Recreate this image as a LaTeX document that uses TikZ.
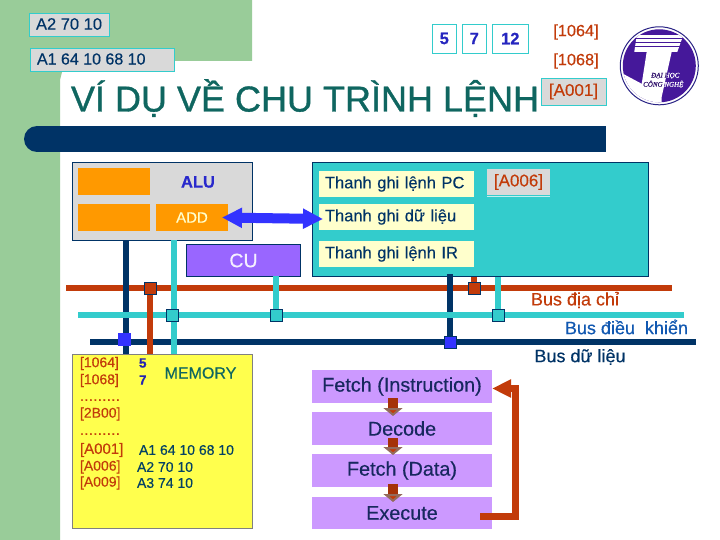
\documentclass[tikz,border=0pt]{standalone}
\usepackage{fontspec}
\setmainfont[RawFeature={embolden=0.35}]{Liberation Sans}
\newfontfamily\titlefont[RawFeature={embolden=1.0}]{Liberation Sans}
\newfontfamily\logofont[RawFeature={embolden=0.5}]{Liberation Serif}[ItalicFont=* Italic]
\usetikzlibrary{arrows.meta}
\definecolor{grn}{HTML}{99CC99}
\definecolor{navy}{HTML}{003366}
\definecolor{tl}{HTML}{33CCCC}
\definecolor{rd}{HTML}{C23B0A}
\definecolor{blu}{HTML}{3333FF}
\definecolor{org}{HTML}{FF9900}
\definecolor{gry}{HTML}{D9D9D9}
\definecolor{ttl}{HTML}{0F6660}
\definecolor{vio}{HTML}{9966FF}
\definecolor{lil}{HTML}{CC99FF}
\definecolor{cre}{HTML}{FFFFCC}
\definecolor{yel}{HTML}{FFFF4D}
\definecolor{tx}{HTML}{17285E}
\definecolor{pur}{HTML}{45189A}
\newcommand{\fs}[1]{\fontsize{#1}{#1}\selectfont}
\newcommand{\dotrow}{.\kern0.6pt.\kern0.6pt.\kern0.6pt.\kern0.6pt.\kern0.6pt.\kern0.6pt.\kern0.6pt.\kern0.6pt.}
\tikzset{
 x=1pt,y=-1pt,
 box/.style={inner sep=0pt,outer sep=0pt,anchor=center},
 graybox/.style={box,draw=tl,line width=0.8pt,fill=gry,text=navy,font=\fs{16}},
 numbox/.style={box,draw=tl,line width=0.8pt,fill=white,text=blu!75!black,font=\fs{16.5}\bfseries,minimum width=24.5pt,minimum height=29pt},
 addr/.style={box,text=rd,font=\fs{16.3}},
 orgbox/.style={box,fill=org,minimum width=72pt,minimum height=27pt},
 regbox/.style={box,fill=cre,minimum width=155pt,minimum height=26pt,text width=155pt,text=navy,font=\fs{16.5},align=left},
 stepbox/.style={box,fill=lil,minimum width=180pt,text=tx,font=\fs{19.8}},
 sq/.style={box,draw=navy,line width=0.8pt,minimum size=12pt},
 wire/.style={line width=6pt},
 memaddr/.style={box,anchor=west,text=rd,font=\fs{14}},
 memval/.style={box,anchor=west,text=navy!70!ttl,font=\fs{14}},
 buslabel/.style={box,font=\fs{18}},
 downarrow/.style={draw=rd!85!black,line width=10pt,-{Triangle[length=8pt,width=19pt,fill=rd,color=gray!70!rd]}},
}
\begin{document}
\begin{tikzpicture}
\useasboundingbox (0,0) rectangle (720,540);
\fill[white] (0,0) rectangle (720,540);
% background bands
\fill[grn] (0,0) -- (252,0) -- (252,61) -- (66,61) -- (62,72) -- (60,80) -- (60,540) -- (0,540) -- cycle;
% bar
\fill[navy] (37,139) circle (13);
\fill[navy] (37,126) rectangle (606,152);
% top boxes
\node[graybox,minimum width=79.5pt,minimum height=23pt] (ir1) at (69.5,24.5) {};
\node[box,text=navy,font=\fs{16.5},anchor=west] (ir1t) at (36,24) {A2 70 10};
\node[graybox,minimum width=144pt,minimum height=23pt] (pc1) at (102,59.5) {};
\node[box,text=navy,font=\fs{16},anchor=west] (pc1t) at (37,59) {A1 64 10 68 10};
\node[numbox] (n5) at (444.3,38.5) {5};
\node[numbox] (n7) at (474.3,38.5) {7};
\node[numbox,minimum width=36.5pt] (n12) at (510.3,38.5) {12};
\node[addr] (a1064) at (576,32) {[1064]};
\node[addr] (a1068) at (576,61) {[1068]};
\node[graybox,text=rd,font=\fs{17},minimum width=65pt,minimum height=27pt] (a001) at (573.5,91.5) {[A001]};
\node[box,anchor=base west,text=ttl,font=\fs{36}\titlefont] (title) at (71,111.5) {VÍ DỤ VỀ CHU TRÌNH LỆNH};
% logo
\begin{scope}[shift={(659.3,65.8)}]
\draw[navy!40!pur,line width=1pt,fill=white] (0,0) circle (39);
\begin{scope}
\clip (0,0) circle (36.5);
\fill[pur] (-40,-40) rectangle (40,40);
\fill[white] (-12.6,-14) -- (12.4,-14) -- (2.4,31) -- (2.4,40) -- (-40,40) -- (-40,6) -- (-17.6,18) -- cycle;
\fill[white] (-22.6,-30.6) -- (24,-30.6) -- (18,-14) -- (-25,-14) -- cycle;
\foreach \yy in {-27,-23,-19} \draw[pur,line width=0.9pt] (-25,\yy) -- (26,\yy);
\end{scope}
\node[box,text=white,font=\fs{7}\logofont\itshape] (l1) at (6,10) {ĐẠI HỌC};
\node[box,text=white,font=\fs{7}\logofont\itshape] (l2) at (4,18.4) {CÔNG NGHỆ};
\begin{scope}
\clip (-12.6,-14) -- (12.4,-14) -- (2.4,31) -- (2.4,40) -- (-40,40) -- (-40,6) -- (-17.6,18) -- cycle;
\node[box,text=pur!70!black,font=\fs{7}\logofont\itshape] at (6,10) {ĐẠI HỌC};
\node[box,text=pur!70!black,font=\fs{7}\logofont\itshape] at (4,18.4) {CÔNG NGHỆ};
\end{scope}
\end{scope}
% ALU
\node[box,draw=navy,line width=0.8pt,fill=gry,minimum width=180pt,minimum height=77.5pt] (alu) at (162.5,201.2) {};
\node[orgbox] (o1) at (114,181.5) {};
\node[orgbox] (o2) at (114,217.5) {};
\node[orgbox,text=cre,font=\fs{15}] (add) at (192,217.5) {ADD};
\node[box,text=blu!80!black,font=\fs{16.5}\bfseries] (alut) at (198,182) {ALU};
% registers
\node[box,draw=navy,line width=0.8pt,fill=tl,minimum width=336pt,minimum height=114pt] (regs) at (480.5,219.5) {};
\node[regbox] (pc) at (396.5,184) {\hspace*{6pt}Thanh ghi lệnh PC};
\node[regbox] (dr) at (396.5,217) {\hspace*{6pt}Thanh ghi dữ liệu};
\node[regbox] (irr) at (396.5,254) {\hspace*{6pt}Thanh ghi lệnh IR};
\node[box,fill=gry,text=rd,font=\fs{17},minimum width=63pt,minimum height=26pt] (a006) at (518.5,182) {[A006]};
\draw[white!70!tl,line width=0.8pt] (a006.south west) ++(0,1) -- ++(63,0);
% CU
\node[box,draw=navy,line width=0.8pt,fill=vio,text=white!90!vio,font=\fs{19.5},minimum width=114pt,minimum height=32pt] (cu) at (243.5,260.5) {CU};
% memory
\node[box,draw=gray,line width=0.8pt,fill=yel,minimum width=180pt,minimum height=174pt] (mem) at (162.5,441.5) {};
% buses and taps
\coordinate (ra) at (66,288); \coordinate (rb) at (672,288);
\coordinate (ta) at (78,315); \coordinate (tb) at (684,315);
\coordinate (na) at (90,342); \coordinate (nb) at (696,342);
\coordinate (m1) at (126,354); \coordinate (m2) at (150,354); \coordinate (m3) at (174,354);
\coordinate (a1) at (126,240); \coordinate (a2) at (174,240);
\coordinate (c1) at (276,276);
\coordinate (r1) at (450,274); \coordinate (r2) at (474,277); \coordinate (r3) at (498,277);
\coordinate (p1) at (150,288); \coordinate (p3) at (276,315);
\coordinate (p4) at (474,288); \coordinate (p5) at (498,315);  \coordinate (p6) at (450,342);
\draw[wire,rd] (ra) -- (rb);
\draw[wire,navy] (a1) -- (m1);
\draw[wire,tl] (c1) -- (p3);
\draw[wire,navy] (r1) -- (p6);
\draw[wire,rd] (r2) -- (p4);
\draw[wire,tl] (r3) -- (p5);
\draw[wire,tl] (ta) -- (tb);
\draw[wire,navy] (na) -- (nb);
\draw[wire,rd] (p1) -- (m2);
\draw[wire,tl] (a2) -- (m3);
% junction squares
\node[sq,fill=rd] (s1) at (150.3,288.3) {};
\node[sq,fill=tl] (s2) at (172.5,315) {};
\node[sq,fill=tl] (s3) at (276.5,315) {};
\node[sq,fill=blu,draw=blu] (s4) at (124.5,339.5) {};
\node[sq,fill=rd] (s5) at (474.5,288) {};
\node[sq,fill=tl] (s6) at (498.3,315) {};
\node[sq,fill=blu] (s7) at (450.5,342) {};
% double arrow
\draw[{Triangle[length=20pt,width=19pt]}-{Triangle[length=20pt,width=19pt]},draw=blu,line width=10pt] (add.east -| 222,219) -- (323,219);
% bus labels
\node[buslabel,text=rd] (b1) at (575,300) {Bus địa chỉ};
\node[buslabel,text=blue!45!tl!60!navy] (b2) at (626.5,327) {Bus điều \ khiển};
\node[buslabel,text=navy] (b3) at (580,357) {Bus dữ liệu};
% memory text
\node[memaddr] (t1) at (80,363.5) {[1064]};
\node[memaddr] (t2) at (80,380.5) {[1068]};
\node[memaddr] (t3) at (80,400) {\dotrow};
\node[memaddr] (t4) at (80,414) {[2B00]};
\node[memaddr] (t5) at (80,434) {\dotrow};
\node[memaddr,font=\fs{15}] (t6) at (80,450) {[A001]};
\node[memaddr] (t7) at (80,467) {[A006]};
\node[memaddr] (t8) at (80,483) {[A009]};
\node[memval,text=blu!70!black,font=\fs{13.5}\bfseries] (v1) at (139,363) {5};
\node[memval,text=blu!70!black,font=\fs{13.5}\bfseries] (v2) at (139,380) {7};
\node[box,text=ttl,font=\fs{16}] (mt) at (200.5,373) {MEMORY};
\node[memval] (v3) at (139,450) {A1 64 10 68 10};
\node[memval] (v4) at (137,467) {A2 70 10};
\node[memval] (v5) at (137,483) {A3 74 10};
% pipeline
\node[stepbox,minimum height=33pt] (f1) at (402,386.5) {Fetch (Instruction)};
\node[stepbox,minimum height=33pt] (dec) at (402,428.5) {Decode};
\node[stepbox,minimum height=33pt] (f2) at (402,470.5) {Fetch (Data)};
\node[stepbox,minimum height=32pt] (ex) at (402,513) {Execute};
\draw[downarrow] ([xshift=-9pt,yshift=5pt]f1.south) -- ([xshift=-9pt,yshift=-4pt]dec.north);
\draw[downarrow] ([xshift=-9pt,yshift=7pt]dec.south) -- ([xshift=-9pt,yshift=-1pt]f2.north);
\draw[downarrow] ([xshift=-9pt,yshift=3pt]f2.south) -- ([xshift=-9pt,yshift=-5pt]ex.north);
\coordinate (exr) at (480,516.5);
\coordinate (top) at (515.5,388.5);
\draw[rd,line width=6.5pt,-{Triangle[length=19pt,width=17pt]}] (exr) -- (515.5,516.5) -- (top) -- (f1.east |- top);
\end{tikzpicture}
\end{document}
